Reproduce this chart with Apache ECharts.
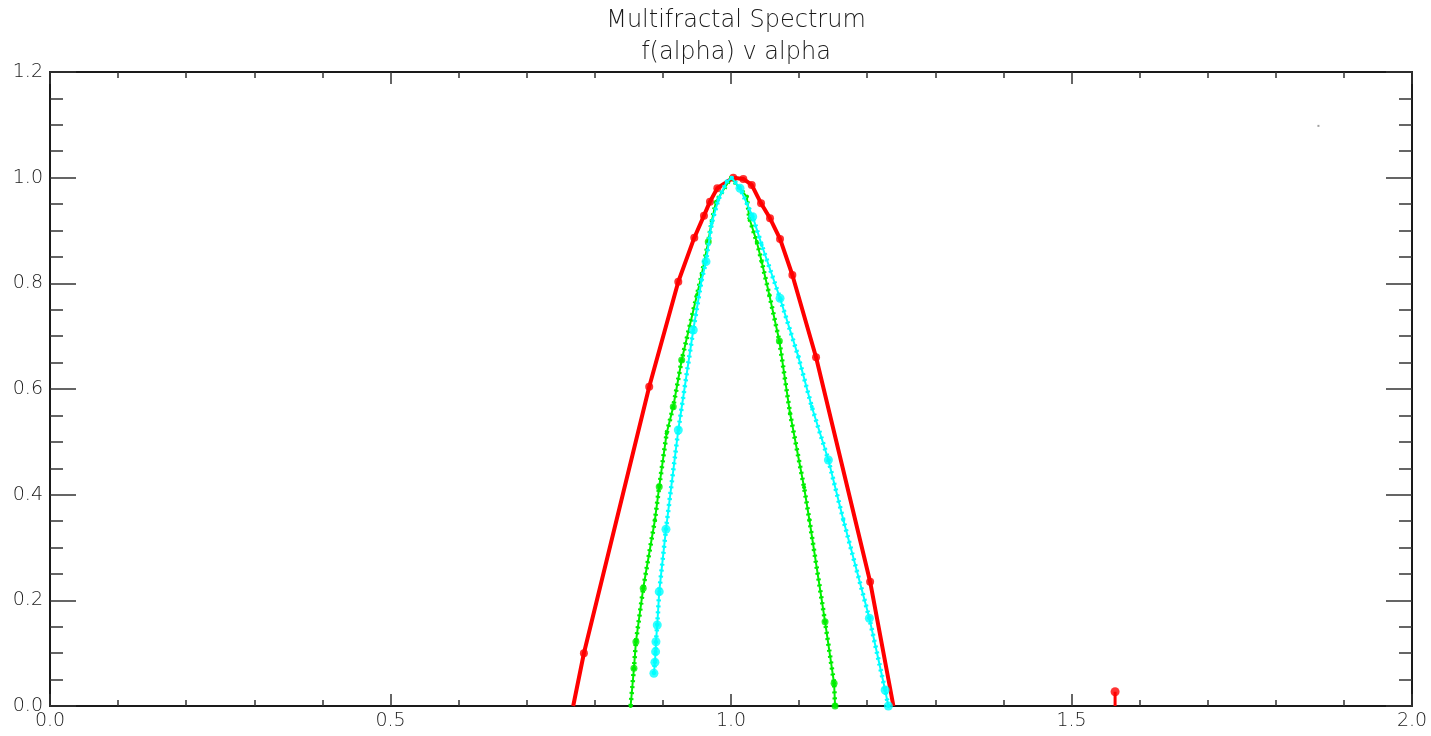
<!DOCTYPE html>
<html>
<head>
<meta charset="utf-8">
<title>Multifractal Spectrum</title>
<script src="https://cdn.jsdelivr.net/npm/echarts@6/dist/echarts.min.js"></script>
<style>
  html, body { margin: 0; padding: 0; background: #ffffff; }
  #chart { width: 1431px; height: 736px; }
</style>
</head>
<body>
<div id="chart"></div>
<script>
// f(alpha) versus alpha for three spectra
const redAlpha = [0.7683, 0.7840, 0.8799, 0.9226, 0.9461, 0.9603, 0.9691, 0.9799, 1.0034, 1.0181, 1.0304, 1.0441, 1.0573, 1.0720, 1.0901, 1.1249, 1.2043, 1.2385];
const redF     = [0.0,    0.0998, 0.6044, 0.8031, 0.8864, 0.9281, 0.9546, 0.9799, 1.0,    0.9975, 0.9862, 0.9515, 0.9231, 0.8840, 0.8158, 0.6600, 0.2353, 0.0];
const redMarked = [1, 2, 3, 4, 5, 6, 7, 8, 9, 10, 11, 12, 13, 14, 15, 16];

const greenAlpha = [0.8526, 0.8575, 0.8604, 0.8711, 0.8883, 0.8946, 0.9055, 0.9152, 0.9276, 0.9500, 0.9569, 0.9666, 0.9716, 0.9780, 1.0000, 1.0231, 1.0269, 1.0378, 1.0451, 1.0563, 1.0710, 1.0867, 1.1073, 1.1151, 1.1381, 1.1514, 1.1528];
const greenF     = [0.0,    0.0714, 0.1217, 0.2228, 0.3521, 0.4151, 0.5162, 0.5665, 0.6549, 0.7780, 0.8158, 0.8789, 0.9167, 0.9546, 1.0,    0.9640, 0.9231, 0.8789, 0.8410, 0.7780, 0.6909, 0.5540, 0.4140, 0.3521, 0.1596, 0.0430, 0.0];
const greenMarked = [1, 2, 3, 5, 7, 8, 11, 20, 24, 25, 26];

const cyanAlpha = [0.8868, 0.8883, 0.8893, 0.8898, 0.8917, 0.8946, 0.9045, 0.9226, 0.9446, 0.9569, 0.9633, 0.9716, 0.9813, 0.9937, 1.0010, 1.0132, 1.0319, 1.0451, 1.0720, 1.0989, 1.1186, 1.1430, 1.1650, 1.2032, 1.2263, 1.2311];
const cyanF     = [0.0619, 0.0827, 0.1028, 0.1217, 0.1533, 0.2164, 0.3345, 0.5224, 0.7117, 0.8064, 0.8410, 0.9137, 0.9578, 0.9924, 1.0,    0.9799, 0.9262, 0.8726, 0.7717, 0.6612, 0.5665, 0.4656, 0.3521, 0.1660, 0.0303, 0.0];
const cyanMarked = [0, 1, 2, 3, 4, 5, 6, 7, 8, 10, 15, 16, 18, 21, 23, 24, 25];

// isolated point with its stem down to the axis
const spikeAlpha = [1.564, 1.564];
const spikeF     = [0.027, 0.0];

// stray point near the top right
const strayAlpha = [1.8626];
const strayF     = [1.098];

const xTicks = { min: 0, max: 2.0, interval: 0.5, minorSplit: 5 };
const yTicks = { min: 0, max: 1.2, interval: 0.2, minorSplit: 4 };

const titleText = 'Multifractal Spectrum';
const subTitleText = 'f(alpha) v alpha';

const FONT = 'DejaVu Sans';
const TEXT_COLOR = '#1a1a1a';
const AXIS_COLOR = '#1a1a1a';
const TICK_COLOR = '#333333';

function pairs(xs, ys) {
  return xs.map((x, i) => [x, ys[i]]);
}
function picked(xs, ys, idx) {
  return idx.map(i => [xs[i], ys[i]]);
}

function xAxisDef(position, showLabels) {
  return {
    type: 'value',
    position: position,
    min: xTicks.min, max: xTicks.max, interval: xTicks.interval,
    axisLine: { show: true, onZero: false, lineStyle: { color: AXIS_COLOR, width: 2 } },
    axisTick: { show: true, inside: true, length: 12, lineStyle: { color: TICK_COLOR, width: 1.5 } },
    minorTick: { show: true, splitNumber: xTicks.minorSplit, length: 6, lineStyle: { color: TICK_COLOR, width: 1.5 } },
    splitLine: { show: false },
    axisLabel: {
      show: showLabels, margin: 6, color: TEXT_COLOR, fontFamily: FONT, fontSize: 19, fontWeight: 200,
      formatter: v => v.toFixed(1)
    }
  };
}
function yAxisDef(position, showLabels) {
  return {
    type: 'value',
    position: position,
    min: yTicks.min, max: yTicks.max, interval: yTicks.interval,
    axisLine: { show: true, onZero: false, lineStyle: { color: AXIS_COLOR, width: 2 } },
    axisTick: { show: true, inside: true, length: 26, lineStyle: { color: TICK_COLOR, width: 1.5 } },
    minorTick: { show: true, splitNumber: yTicks.minorSplit, length: 13, lineStyle: { color: TICK_COLOR, width: 1.5 } },
    splitLine: { show: false },
    axisLabel: {
      show: showLabels, margin: 7, color: TEXT_COLOR, fontFamily: FONT, fontSize: 19, fontWeight: 200,
      formatter: v => v.toFixed(1)
    }
  };
}

// a thin core line with a beaded overlay, as drawn by a dense run of small markers
function beadedLine(name, xs, ys, color, z) {
  return [
    {
      name: name, type: 'line', data: pairs(xs, ys),
      symbol: 'circle', symbolSize: 4, showSymbol: true, z: z,
      itemStyle: { color: color },
      lineStyle: { color: color, width: 2 }
    },
    {
      name: name + ' beads', type: 'line', data: pairs(xs, ys),
      showSymbol: false, z: z,
      lineStyle: { color: color, width: 4.5, type: [2, 4] }
    }
  ];
}

const chart = echarts.init(document.getElementById('chart'), null, { renderer: 'canvas' });

chart.setOption({
  backgroundColor: '#ffffff',
  animation: false,
  title: [
    { text: titleText, left: 731, top: 4, textAlign: 'center',
      textStyle: { fontFamily: FONT, fontSize: 24, fontWeight: 200, color: TEXT_COLOR } },
    { text: subTitleText, left: 731, top: 36, textAlign: 'center',
      textStyle: { fontFamily: FONT, fontSize: 24, fontWeight: 200, color: TEXT_COLOR } }
  ],
  grid: { left: 50, right: 19, top: 72, bottom: 30, containLabel: false },
  xAxis: [xAxisDef('bottom', true), xAxisDef('top', false)],
  yAxis: [yAxisDef('left', true), yAxisDef('right', false)],
  series: [
    {
      name: 'red', type: 'line', data: pairs(redAlpha, redF),
      showSymbol: false, smooth: false, z: 3,
      lineStyle: { color: '#ff0000', width: 4 }
    },
    {
      name: 'red marks', type: 'scatter', data: picked(redAlpha, redF, redMarked),
      symbol: 'circle', symbolSize: 8, z: 4,
      itemStyle: { color: '#ff0000' }
    },
    ...beadedLine('green', greenAlpha, greenF, '#00ee00', 5),
    {
      name: 'green marks', type: 'scatter', data: picked(greenAlpha, greenF, greenMarked),
      symbol: 'circle', symbolSize: 7, z: 6,
      itemStyle: { color: '#00ee00' }
    },
    ...beadedLine('cyan', cyanAlpha, cyanF, '#00ffff', 7),
    {
      name: 'cyan marks', type: 'scatter', data: picked(cyanAlpha, cyanF, cyanMarked),
      symbol: 'circle', symbolSize: 9, z: 8,
      itemStyle: { color: '#00ffff' }
    },
    {
      name: 'spike', type: 'line', data: pairs(spikeAlpha, spikeF),
      showSymbol: false, z: 3,
      lineStyle: { color: '#ff0000', width: 3 }
    },
    {
      name: 'spike mark', type: 'scatter', data: [[spikeAlpha[0], spikeF[0]]],
      symbol: 'circle', symbolSize: 9, z: 4,
      itemStyle: { color: '#ff0000' }
    },
    {
      name: 'stray', type: 'scatter', data: pairs(strayAlpha, strayF),
      symbol: 'rect', symbolSize: 2, z: 2,
      itemStyle: { color: '#888888' }
    }
  ]
});
</script>
</body>
</html>
